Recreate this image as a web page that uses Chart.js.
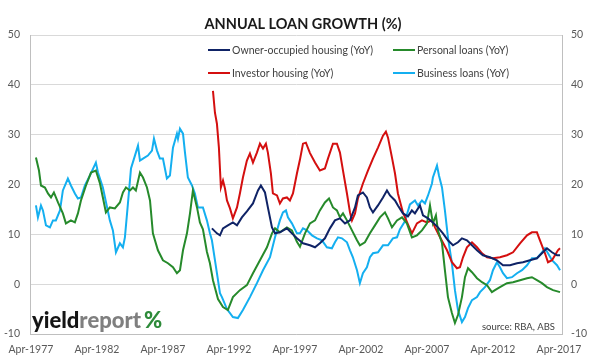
<!DOCTYPE html>
<html><head><meta charset="utf-8">
<script src="https://cdn.jsdelivr.net/npm/chart.js@4/dist/chart.umd.min.js"></script>
<style>html,body{margin:0;padding:0;background:#fff}#wrap{position:relative;width:602px;height:358px}</style>
</head><body><div id="wrap"><canvas id="c" width="602" height="358"></canvas></div>
<script>
// ---- DATA (decimal years, % YoY) ----
const xTickYears = [1977,1982,1987,1992,1997,2002,2007,2012,2017];
const tickMonth = 'Apr';
const yTicks = [-10,0,10,20,30,40,50];

const ownerYears = [
1990.96,1991.34,1991.57,1991.80,1992.17,1992.55,1992.86,1993.23,1993.61,1994.07,
1994.45,1994.67,1994.98,1995.20,1995.51,1995.74,1996.11,1996.64,1997.02,1997.40,
1997.86,1998.39,1998.77,1999.14,1999.52,1999.90,2000.28,2000.66,2001.04,2001.42,
2001.80,2002.02,2002.40,2002.70,2002.93,2003.16,2003.54,2003.92,2004.22,2004.45,
2004.83,2005.05,2005.43,2005.81,2006.11,2006.34,2006.72,2006.95,2007.33,2007.70,
2008.08,2008.46,2008.84,2009.22,2009.60,2009.90,2010.28,2010.66,2011.04,2011.49,
2012.02,2012.55,2013.01,2013.54,2014.07,2014.52,2015.05,2015.58,2015.96,2016.34,
2016.72,2017.10,2017.33];
const ownerValues = [
11.2,10.2,9.8,11.2,11.8,12.4,11.8,13.4,14.6,16.2,
18.8,19.8,18.4,15.4,11.4,10.2,10.4,11.2,10.2,9.2,
8.2,7.8,7.4,8.2,9.2,11.2,12.8,13.2,12.2,12.8,
15.4,17.8,18.4,17.4,15.4,14.4,15.8,17.4,18.8,17.8,
16.8,15.8,14.2,13.6,14.8,14.2,15.8,13.8,13.2,12.4,
11.4,10.2,8.8,7.8,8.4,9.2,8.8,7.8,6.8,5.8,
5.4,4.8,3.8,3.8,4.2,4.4,4.8,5.2,6.2,7.2,
6.4,5.8,5.8];

const personalYears = [
1977.63,1977.86,1978.01,1978.31,1978.54,1978.77,1978.99,1979.30,1979.67,1979.90,
1980.28,1980.58,1980.81,1981.04,1981.42,1981.80,1982.17,1982.48,1982.70,1982.93,
1983.23,1983.61,1983.99,1984.22,1984.45,1984.75,1984.98,1985.20,1985.51,1985.74,
1986.04,1986.27,1986.49,1986.87,1987.25,1987.63,1988.01,1988.31,1988.54,1988.77,
1989.07,1989.30,1989.52,1989.83,1990.05,1990.28,1990.58,1990.81,1991.04,1991.42,
1991.80,1992.17,1992.55,1993.08,1993.61,1994.07,1994.60,1995.13,1995.51,1995.74,
1996.11,1996.64,1997.02,1997.40,1997.63,1998.01,1998.39,1998.77,1999.14,1999.52,
1999.83,2000.13,2000.43,2000.66,2000.89,2001.19,2001.57,2001.95,2002.17,2002.55,
2002.93,2003.31,2003.69,2004.07,2004.30,2004.60,2004.98,2005.36,2005.73,2006.11,
2006.49,2006.87,2007.25,2007.48,2007.70,2007.93,2008.08,2008.39,2008.61,2008.84,
2009.14,2009.37,2009.60,2009.90,2010.13,2010.36,2010.66,2011.04,2011.42,2011.80,
2012.17,2012.40,2012.78,2013.31,2013.77,2014.30,2014.83,2015.20,2015.58,2015.96,
2016.34,2016.80,2017.33];
const personalValues = [
25.4,22.8,19.8,19.4,18.2,17.4,18.4,16.4,14.2,12.2,
12.8,12.4,14.2,16.8,19.8,22.4,22.8,20.2,17.4,14.4,
15.4,15.2,16.4,18.4,19.4,18.8,19.4,18.8,22.4,21.4,
19.4,16.8,10.2,6.8,4.8,4.2,3.4,2.2,2.8,6.8,
10.2,14.2,18.8,15.4,12.4,11.0,6.5,4.2,0.8,-3.0,
-4.6,-5.2,-2.6,-1.2,-0.2,2.2,4.8,7.4,10.2,11.2,
10.4,11.4,10.8,8.5,7.5,10.2,12.2,12.8,14.8,16.4,
17.2,15.4,14.8,13.4,14.2,12.8,10.8,8.8,7.8,8.4,
10.2,11.8,13.4,14.4,13.2,11.4,12.8,13.4,12.2,9.4,
9.8,10.8,12.2,15.8,12.2,13.8,10.8,8.2,2.8,-2.6,
-5.8,-7.8,-6.2,-2.6,1.4,3.2,2.4,1.2,0.4,-0.2,
-1.6,-1.2,-0.6,0.2,0.4,0.8,1.2,1.4,0.8,0.2,
-0.6,-1.2,-1.6];

const investorYears = [
1991.04,1991.19,1991.34,1991.49,1991.64,1991.80,1991.95,1992.10,1992.33,1992.55,
1992.86,1993.08,1993.31,1993.61,1993.84,1994.07,1994.37,1994.60,1994.83,1995.05,
1995.20,1995.43,1995.58,1995.89,1996.11,1996.34,1996.64,1996.87,1997.10,1997.40,
1997.63,1997.86,1998.08,1998.39,1998.77,1999.14,1999.52,1999.75,2000.13,2000.43,
2000.66,2000.89,2001.19,2001.42,2001.57,2001.80,2002.02,2002.40,2002.78,2003.16,
2003.54,2003.92,2004.14,2004.30,2004.60,2004.83,2005.05,2005.43,2005.81,2006.11,
2006.49,2006.87,2007.25,2007.63,2007.86,2008.24,2008.77,2009.14,2009.52,2009.75,
2009.98,2010.28,2010.66,2011.04,2011.42,2011.80,2012.25,2012.78,2013.31,2013.77,
2014.30,2014.83,2015.20,2015.58,2015.81,2016.19,2016.42,2016.72,2016.95,2017.17,
2017.33];
const investorValues = [
38.8,34.4,32.2,27.4,19.4,20.8,19.2,16.8,15.2,13.2,
15.4,18.2,21.4,24.8,26.2,24.4,26.4,28.2,27.2,28.2,
26.4,22.2,18.2,17.8,16.2,17.2,17.4,16.8,18.2,22.2,
25.0,28.2,28.4,26.3,24.4,22.8,23.2,25.2,28.2,28.2,
26.4,22.8,18.2,14.4,12.8,14.2,17.2,20.2,22.8,25.2,
27.4,29.8,30.6,29.4,25.4,22.2,18.2,14.4,12.0,10.2,
12.2,12.8,12.4,12.8,11.4,9.4,6.8,4.4,3.2,3.4,
5.4,7.4,8.4,7.4,6.2,5.4,5.2,5.4,5.8,6.4,
8.2,9.8,10.4,10.4,8.8,6.2,4.4,4.8,5.8,6.8,
7.2];

const businessYears = [
1977.63,1977.78,1978.01,1978.16,1978.39,1978.69,1978.92,1979.14,1979.45,1979.67,
1980.05,1980.28,1980.58,1980.81,1981.04,1981.34,1981.72,1982.17,1982.33,1982.70,
1983.23,1983.46,1983.69,1983.99,1984.22,1984.37,1984.60,1984.83,1985.13,1985.36,
1985.51,1985.74,1986.11,1986.42,1986.57,1986.80,1987.02,1987.25,1987.55,1987.78,
1988.01,1988.31,1988.39,1988.54,1988.77,1988.92,1989.14,1989.45,1989.67,1989.90,
1990.28,1990.58,1990.81,1990.96,1991.34,1991.57,1991.72,1992.10,1992.55,1992.93,
1993.31,1993.84,1994.37,1994.83,1995.36,1995.74,1996.11,1996.34,1996.57,1996.72,
1997.02,1997.40,1997.63,1997.86,1998.16,1998.54,1998.92,1999.30,1999.67,2000.05,
2000.28,2000.51,2000.81,2001.19,2001.42,2001.64,2001.95,2002.17,2002.40,2002.70,
2002.93,2003.16,2003.54,2003.92,2004.30,2004.67,2004.98,2005.20,2005.58,2005.96,
2006.34,2006.57,2006.87,2007.10,2007.33,2007.63,2007.70,2008.01,2008.16,2008.39,
2008.61,2008.84,2009.14,2009.37,2009.60,2009.90,2010.13,2010.36,2010.66,2011.04,
2011.27,2011.64,2012.02,2012.25,2012.55,2012.78,2013.01,2013.31,2013.69,2014.07,
2014.45,2014.83,2015.20,2015.58,2015.96,2016.19,2016.42,2016.72,2017.10,2017.33];
const businessValues = [
15.8,13.4,15.8,14.8,11.8,11.4,12.8,12.8,14.8,18.8,
21.2,19.8,18.2,17.2,17.4,19.8,21.8,24.4,22.4,19.4,
12.8,10.8,6.4,8.2,7.4,9.4,16.2,23.2,25.8,27.8,
24.8,25.2,25.8,26.8,29.2,26.8,25.2,25.2,21.2,21.8,
27.4,30.2,29.2,31.2,30.2,26.4,21.4,19.8,18.2,15.4,
15.4,12.8,10.2,8.8,2.2,-1.8,-2.6,-5.0,-6.6,-6.8,
-5.2,-2.6,0.2,2.8,5.4,9.4,12.8,14.4,14.8,13.4,
12.2,10.2,10.2,11.2,10.8,9.8,9.2,8.8,7.4,7.2,
8.4,9.4,9.2,8.4,6.8,5.4,2.8,0.2,2.2,3.4,
5.4,6.2,6.4,7.8,7.8,9.2,9.4,11.0,12.6,16.0,
16.8,15.8,16.8,16.2,17.8,20.2,21.4,23.8,21.8,19.4,
14.8,9.4,4.2,-1.2,-5.2,-7.6,-6.6,-4.8,-3.2,-2.6,
-1.6,-0.6,0.8,2.8,4.4,3.4,2.2,1.2,1.4,2.2,
2.8,3.8,5.2,5.2,6.4,7.2,6.2,4.8,3.8,2.8];

const seriesLabels = ['Owner-occupied housing (YoY)','Personal loans (YoY)','Investor housing (YoY)','Business loans (YoY)'];
const seriesColors = ['#0f2366','#268a2b','#d40f0f','#14aff0'];
const titleText = 'ANNUAL LOAN GROWTH (%)';
const sourceText = 'source: RBA, ABS';

// ---- build ----
const pts = (xs, ys) => xs.map((x, i) => ({x: x, y: ys[i]}));
const seriesData = [pts(ownerYears, ownerValues), pts(personalYears, personalValues),
                    pts(investorYears, investorValues), pts(businessYears, businessValues)];

const datasets = seriesLabels.map((l, i) => ({
  label: l, data: seriesData[i], borderColor: seriesColors[i], backgroundColor: seriesColors[i],
  borderWidth: 2, pointRadius: 0, tension: 0, fill: false, yAxisID: 'y'
}));

const tickFont = {family: 'Lato', size: 10.5};
const tickColor = '#595959';

const overlay = {
  id: 'overlay',
  afterDraw(chart) {
    const ctx = chart.ctx;
    ctx.save();
    // title
    ctx.font = 'bold 14.5px Lato';
    ctx.fillStyle = '#1a1a1a';
    ctx.textAlign = 'center';
    ctx.textBaseline = 'alphabetic';
    ctx.fillText(titleText, 303, 29);
    // legend (2 columns x 2 rows inside plot)
    const colX = [208, 393], rowY = [50, 73];
    ctx.font = '10.5px Lato';
    ctx.textAlign = 'left';
    ctx.textBaseline = 'middle';
    chart.data.datasets.forEach((ds, i) => {
      const cx = colX[i % 2], cy = rowY[Math.floor(i / 2)];
      ctx.strokeStyle = ds.borderColor;
      ctx.lineWidth = 2;
      ctx.beginPath(); ctx.moveTo(cx, cy); ctx.lineTo(cx + 22, cy); ctx.stroke();
      ctx.fillStyle = '#404040';
      ctx.fillText(ds.label, cx + 24, cy + 0.5);
    });
    // source
    ctx.font = '9.5px Lato';
    ctx.fillStyle = '#404040';
    ctx.textAlign = 'right';
    ctx.textBaseline = 'alphabetic';
    ctx.fillText(sourceText, 555, 330);
    // logo
    ctx.textAlign = 'left';
    ctx.font = '900 22px Lato';
    let x = 32; const by = 328;
    ctx.fillStyle = '#151515'; ctx.fillText('yield', x, by); x += ctx.measureText('yield').width;
    ctx.fillStyle = '#7f7f7f'; ctx.fillText('report', x, by); x += ctx.measureText('report').width + 3;
    ctx.fillStyle = '#2e8b3a'; ctx.fillText('%', x, by);
    ctx.restore();
  }
};

new Chart(document.getElementById('c'), {
  type: 'line',
  data: {datasets},
  options: {
    responsive: false, animation: false, devicePixelRatio: 1,
    layout: {padding: {top: 35, left: 0, right: 0, bottom: 0}},
    plugins: {legend: {display: false}, title: {display: false}, tooltip: {enabled: false}},
    scales: {
      x: {
        type: 'linear', min: 1977.18, max: 2017.48,
        grid: {display: false},
        border: {display: true, color: '#bfbfbf'},
        ticks: {autoSkip: false, maxRotation: 0, minRotation: 0, padding: 1, font: tickFont, color: tickColor,
          callback: v => tickMonth + '-' + Math.round(v - 0.25)},
        afterBuildTicks: s => { s.ticks = xTickYears.map(y => ({value: y + 0.25})); },
        afterFit: s => { s.height = 24; }
      },
      y: {
        position: 'left', min: -10, max: 50,
        grid: {color: '#d9d9d9', drawTicks: false},
        border: {display: true, color: '#bfbfbf'},
        ticks: {padding: 10, font: tickFont, color: tickColor},
        afterBuildTicks: s => { s.ticks = yTicks.map(v => ({value: v})); },
        afterFit: s => { s.width = 30; }
      },
      y2: {
        position: 'right', min: -10, max: 50,
        grid: {display: false, drawTicks: false},
        border: {display: true, color: '#bfbfbf'},
        ticks: {padding: 9, font: tickFont, color: tickColor},
        afterBuildTicks: s => { s.ticks = yTicks.map(v => ({value: v})); },
        afterFit: s => { s.width = 40; }
      }
    }
  },
  plugins: [overlay]
});
</script></body></html>
